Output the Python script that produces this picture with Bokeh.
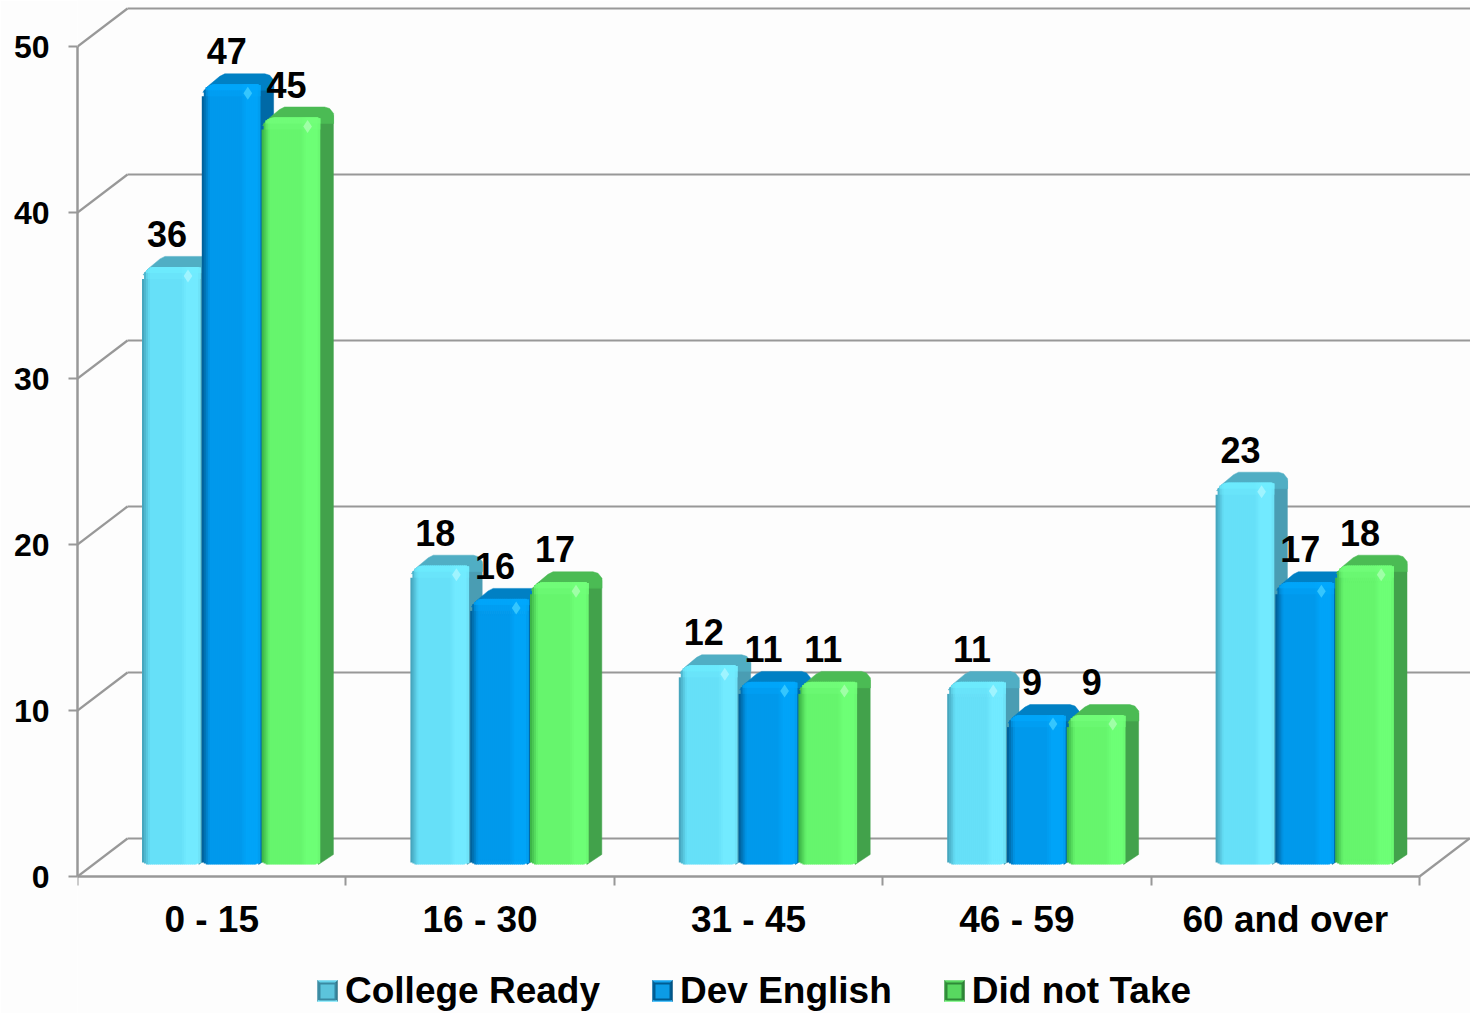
import math
from bokeh.plotting import figure
from bokeh.embed import file_html
from bokeh.resources import INLINE
from bokeh.core.properties import value
from bokeh.models import (ColumnDataSource, FixedTicker, Legend, LegendItem, LinearAxis, Range1d)

categories = ["0 - 15", "16 - 30", "31 - 45", "46 - 59", "60 and over"]
college_ready = [36, 18, 12, 11, 23]
dev_english = [47, 16, 11, 9, 17]
did_not_take = [45, 17, 11, 9, 18]
y_ticks = [0, 10, 20, 30, 40, 50]
series_names = ["College Ready", "Dev English", "Did not Take"]
series_values = [college_ragdy] if False else [college_ready, dev_english, did_not_take]

FONT = "Liberation Sans"
GREY = "#989898"
BG = "#fdfdfd"

# pixel scale of the two axes
PX_U = 268.4   # px per category
PX_V = 16.6    # px per value unit
DEPTH = 12 / PX_V  # the bars stand 12 px behind the front edge of the floor
BAR_OFFSET = 64.5  # px from category start to first bar
BAR_W = 59.8

palette = [
    dict(left="#46A6BE", main="#66E0F8", right="#72EAFF", end="#5CC8DE", side="#4A9DB3", roof="#50AEC4", hi="#6FEEFF", spark="#B4F8FF", sw="#5CC4DC", swl="#3A8AA2",
         bevel=["#67D4EC", "#3F8EA6", "#2F7488", "#78E6FA"]),
    dict(left="#00629C", main="#0099EC", right="#00A4F8", end="#0088D0", side="#0069A6", roof="#0080C4", hi="#00AAFF", spark="#4CD4FF", sw="#0C9CE6", swl="#005C92",
         bevel=["#14A4EE", "#00659E", "#004E7E", "#1EB0F8"]),
    dict(left="#3DB648", main="#66F56D", right="#6DFF76", end="#5CE064", side="#42A24B", roof="#4BBB54", hi="#74FF7C", spark="#B4FFBA", sw="#58D860", swl="#2F8A38",
         bevel=["#58D860", "#379A40", "#2B7D33", "#6CF574"]),
]


def hex2rgb(c):
    return [int(c[i:i + 2], 16) for i in (1, 3, 5)]


def mix(a, b, t):
    ra, rb = hex2rgb(a), hex2rgb(b)
    return "#%02x%02x%02x" % tuple(round(x + (y - x) * t) for x, y in zip(ra, rb))


def strip_color(pal, dx):
    stops = [(0, pal["left"]), (7, pal["main"]), (38, pal["main"]), (44, pal["right"]), (55, pal["right"]), (60, pal["end"])]
    for (d0, c0), (d1, c1) in zip(stops, stops[1:]):
        if dx <= d1:
            return mix(c0, c1, (dx - d0) / (d1 - d0))
    return stops[-1][1]


def top_drop(dx):
    R = 12.0
    if dx < R:
        return R - math.sqrt(max(R * R - (R - dx) ** 2, 0))
    if dx > BAR_W - 5:
        return (dx - (BAR_W - 5)) * 0.6
    return 0.0


def bottom_rise(dx):
    if dx < 4:
        return (4 - dx) * 0.5
    if dx > BAR_W - 8:
        return (dx - (BAR_W - 8)) * 0.3
    return 0.0


p = figure(
    width=1470, height=1013, frame_width=1393, frame_height=1013,
    output_backend="svg", toolbar_location=None,
    x_range=Range1d(0, (1470 - 77) / PX_U), y_range=Range1d((876 - 1013) / PX_V, 876 / PX_V),
    min_border_left=77, min_border_right=0, min_border_top=0, min_border_bottom=0,
    background_fill_color=BG, border_fill_color=BG, outline_line_color=None,
    x_axis_location=None, y_axis_location=None,
)
p.grid.visible = False

# walls
wall_dx = 50 / PX_U
wall_dy = 38 / PX_V
p.segment(x0=[wall_dx] * len(y_ticks), x1=[6.0] * len(y_ticks),
          y0=[t + wall_dy for t in y_ticks], y1=[t + wall_dy for t in y_ticks],
          line_color=GREY, line_width=2.2)
p.segment(x0=[0.0] * len(y_ticks), x1=[wall_dx] * len(y_ticks),
          y0=y_ticks, y1=[t + wall_dy for t in y_ticks],
          line_color=GREY, line_width=2.2)
p.segment(x0=[float(len(categories))], x1=[len(categories) + wall_dx], y0=[0], y1=[wall_dy],
          line_color=GREY, line_width=2.2)

legend_items = []
for s, (name, vals, pal) in enumerate(zip(series_names, series_values, palette)):
    sx, sy, rx, ry = [], [], [], []
    left_px = [i * PX_U + BAR_OFFSET + s * BAR_W for i in range(len(vals))]
    for lp, v in zip(left_px, vals):
        top = v + DEPTH
        base = DEPTH
        fx = lambda d: (lp + d) / PX_U
        fy = lambda d: top - d / PX_V
        # d measured down from the top of the face
        sx.append([fx(BAR_W - 3), fx(BAR_W + 12), fx(BAR_W + 12), fx(BAR_W - 3)])
        sy.append([fy(2), fy(-2), base + 10 / PX_V, base])
        rx.append([fx(d) for d in (1, 6, 18, 23, 63, 68, 72, 72, BAR_W - 3)])
        ry.append([fy(d) for d in (8, 2, -8, -10.5, -10.5, -9, -4, 6, 6)])
    p.patches(sx, sy, fill_color=pal["side"], line_color=pal["side"], line_width=0.5)
    p.patches(rx, ry, fill_color=pal["roof"], line_color=pal["roof"], line_width=0.5)

    # flat face, used by the legend as well; it lies fully under the shaded strips
    base_r = p.quad(left=[(lp + 4) / PX_U for lp in left_px],
                    right=[(lp + BAR_W - 4) / PX_U for lp in left_px],
                    top=[v + DEPTH - 16 / PX_V for v in vals],
                    bottom=[DEPTH + 4 / PX_V] * len(vals),
                    fill_color=pal["sw"], line_color=pal["swl"], line_width=2)
    legend_items.append(LegendItem(label=name, renderers=[base_r]))

    # shaded strips over the face
    L, R, T, B, C = [], [], [], [], []
    for lp, v in zip(left_px, vals):
        top = v + DEPTH
        step = 2.0
        n = int(BAR_W / step)
        for d_from, d_to, t_hi in [(0, None, 0.0), (0, 12, 0.3), (0, 6, 0.7)]:
            for k in range(n):
                dx = k * step
                drop = top_drop(dx)
                c = strip_color(pal, dx)
                if t_hi and dx > 3:
                    c = mix(c, pal["hi"], t_hi)
                elif t_hi:
                    continue
                L.append((lp + dx) / PX_U)
                R.append((lp + min(dx + step + 0.7, BAR_W)) / PX_U)
                T.append(top - (drop + d_from) / PX_V)
                B.append(DEPTH + bottom_rise(dx) / PX_V if d_to is None else top - max(d_to, drop + 1) / PX_V)
                C.append(c)
    p.quad(left="L", right="R", top="T", bottom="B", fill_color="C", line_color=None,
           source=ColumnDataSource(dict(L=L, R=R, T=T, B=B, C=C)))
    p.scatter([(lp + 46) / PX_U for lp in left_px], [v + DEPTH - 9 / PX_V for v in vals],
              marker="diamond", size=13, fill_color=pal["spark"], line_color=None, alpha=0.7)

# value labels
for s, vals in enumerate(series_values):
    xs = [(i * PX_U + BAR_OFFSET + s * BAR_W + BAR_W / 2 - 5) / PX_U for i in range(len(vals))]
    ys = [v + DEPTH + 33 / PX_V for v in vals]
    p.text(xs, ys, text=[str(v) for v in vals], text_font=value(FONT), text_font_style="bold",
           text_font_size="36px", text_color="#000000", text_align="center", text_baseline="middle")

# axes
xaxis = LinearAxis(
    fixed_location=0, bounds=(0, len(categories)),
    ticker=FixedTicker(ticks=[i + 0.5 for i in range(len(categories))],
                       minor_ticks=list(range(len(categories) + 1))),
    major_label_overrides={i + 0.5: c for i, c in enumerate(categories)},
    major_tick_in=0, major_tick_out=0, minor_tick_in=0, minor_tick_out=9,
    minor_tick_line_color=GREY, minor_tick_line_width=2,
    axis_line_color=GREY, axis_line_width=2.5,
    major_label_text_font=FONT, major_label_text_font_style="bold", major_label_text_font_size="37px",
    major_label_text_color="#000000", major_label_standoff=13,
)
p.add_layout(xaxis, "below")
yaxis = LinearAxis(
    bounds=(0, 50),
    ticker=FixedTicker(ticks=y_ticks),
    major_tick_in=0, major_tick_out=9, minor_tick_in=0, minor_tick_out=0,
    major_tick_line_color=GREY, major_tick_line_width=2,
    axis_line_color=GREY, axis_line_width=2.5,
    major_label_text_font=FONT, major_label_text_font_style="bold", major_label_text_font_size="32px",
    major_label_text_color="#000000", major_label_standoff=19,
)
p.add_layout(yaxis, "left")

legend = Legend(
    items=legend_items, orientation="horizontal", location=(240, 1),
    background_fill_alpha=0, border_line_color=None, padding=0, margin=0,
    glyph_width=20, glyph_height=20, label_standoff=8, spacing=52,
    label_text_font=FONT, label_text_font_style="bold", label_text_font_size="37px",
    label_text_color="#000000",
)
p.add_layout(legend, "center")

# bevelled keys over the legend's flat keys
swatch_left = [317, 652, 944]
for xl, pal in zip(swatch_left, palette):
    x0, x1 = (xl - 77) / PX_U, (xl + 20 - 77) / PX_U
    xa, xb = (xl + 9 - 77) / PX_U, (xl + 11 - 77) / PX_U
    y0, y1 = (876 - 1001) / PX_V, (876 - 980) / PX_V
    ya, yb = (876 - 992) / PX_V, (876 - 989) / PX_V
    p.patches(
        [[x0, x1, xb, xa], [x0, xa, xa, x0], [x1, xb, xb, x1], [x0, x1, xb, xa]],
        [[y1, y1, yb, yb], [y1, yb, ya, y0], [y1, yb, ya, y0], [y0, y0, ya, ya]],
        fill_color=pal["bevel"], line_color=pal["bevel"],
        line_width=0.5, level="overlay",
    )

open("out.html", "w").write(file_html(p, INLINE))
